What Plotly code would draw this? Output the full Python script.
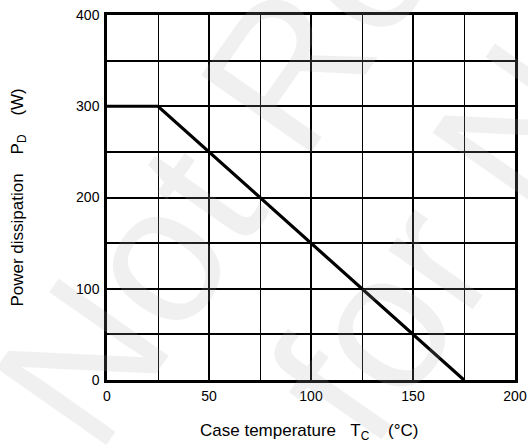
import plotly.graph_objects as go

# Data: power derating curve
case_temp = [0, 25, 175]          # Tc (°C)
power_diss = [300, 300, 0]        # PD (W)

x_tickvals = [0, 50, 100, 150, 200]
x_ticktext = ["0", "50", "100", "150", "200"]
y_tickvals = [0, 100, 200, 300, 400]
y_ticktext = ["0", "100", "200", "300", "400"]

watermark_lines = ["Not Recommended", "for New Design"]

FONT = "Liberation Sans, Arial, sans-serif"
NB = "\u00a0"

fig = go.Figure()
fig.add_trace(go.Scatter(
    x=case_temp, y=power_diss, mode="lines",
    line=dict(color="black", width=3.2),
    hoverinfo="skip", showlegend=False,
))

fig.update_xaxes(
    range=[0, 200], tickvals=x_tickvals, ticktext=x_ticktext,
    showgrid=True, gridcolor="black", gridwidth=1.6,
    minor=dict(dtick=25, tick0=0, showgrid=True, gridcolor="black", gridwidth=1.3),
    showline=True, linecolor="black", linewidth=2.5, mirror=True,
    ticks="outside", ticklen=1, tickcolor="rgba(0,0,0,0)",
    tickfont=dict(family=FONT, size=14, color="black"),
    zeroline=False, fixedrange=True,
)
fig.update_yaxes(
    range=[0, 400], tickvals=y_tickvals, ticktext=y_ticktext,
    showgrid=True, gridcolor="black", gridwidth=1.8,
    minor=dict(dtick=50, tick0=0, showgrid=True, gridcolor="black", gridwidth=1.5),
    showline=True, linecolor="black", linewidth=2.5, mirror=True,
    ticks="outside", ticklen=2, tickcolor="rgba(0,0,0,0)",
    tickfont=dict(family=FONT, size=14, color="black"),
    zeroline=False, fixedrange=True,
)

annotations = [
    dict(text=f"Case temperature{NB*3}T<sub>C</sub>{NB*4}(°C)",
         xref="paper", yref="paper", x=0.4975, y=-0.142,
         xanchor="center", yanchor="middle", showarrow=False,
         font=dict(family=FONT, size=17, color="black")),
    dict(text=f"Power dissipation{NB*4}P<sub>D</sub>{NB*4}(W)",
         xref="paper", yref="paper", x=-0.218, y=0.50,
         xanchor="center", yanchor="middle", showarrow=False, textangle=-90,
         font=dict(family=FONT, size=17, color="black")),
]

# watermark (faint, rotated)
wm_pos = [(523, -269), (698, -131)]   # pixel centres in the 528x445 page
for txt, (px, py) in zip(watermark_lines, wm_pos):
    annotations.append(dict(
        text=txt, xref="paper", yref="paper",
        x=(px - 107) / 408, y=(380 - py) / 365,
        xanchor="center", yanchor="middle", showarrow=False, textangle=-55,
        font=dict(family=FONT, size=195, color="rgba(170,170,170,0.18)"),
    ))

fig.update_layout(
    width=528, height=445,
    margin=dict(l=107, r=13, t=15, b=65, autoexpand=False),
    paper_bgcolor="white", plot_bgcolor="white",
    annotations=annotations,
    showlegend=False,
)

fig.write_html("out.html", config={"displayModeBar": False},
               post_script="document.body.style.margin='0';")
